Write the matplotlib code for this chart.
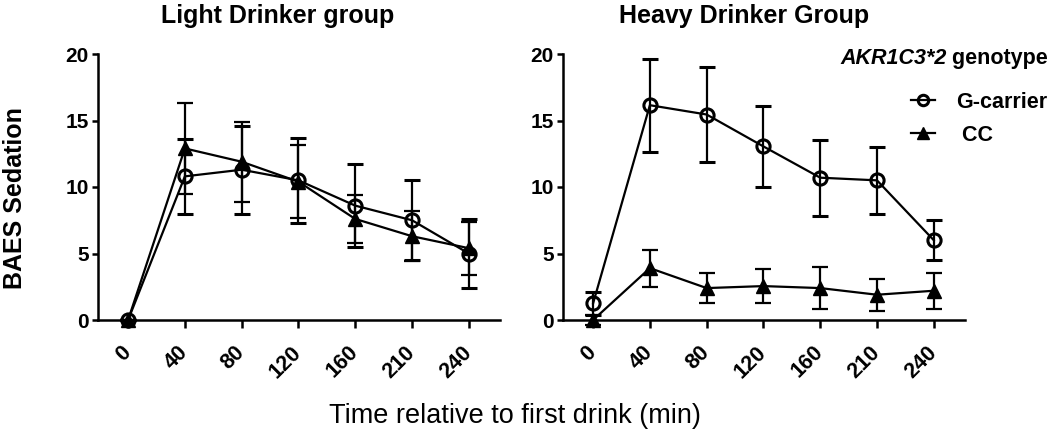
"""BAES sedation over time by AKR1C3*2 genotype, light vs heavy drinkers."""

import matplotlib

matplotlib.use("Agg")
import matplotlib.pyplot as plt  # noqa: E402
from matplotlib.lines import Line2D  # noqa: E402

TIMES = ["0", "40", "80", "120", "160", "210", "240"]

LIGHT_G_MEAN = [0, 10.8, 11.3, 10.5, 8.6, 7.5, 5.0]
LIGHT_G_SEM = [0, 2.8, 3.3, 3.2, 3.1, 3.0, 2.6]
LIGHT_CC_MEAN = [0, 12.9, 11.9, 10.4, 7.6, 6.3, 5.4]
LIGHT_CC_SEM = [0, 3.4, 3.0, 2.75, 1.8, 1.9, 2.0]

HEAVY_G_MEAN = [1.25, 16.15, 15.45, 13.05, 10.7, 10.5, 6.0]
HEAVY_G_SEM = [0.85, 3.5, 3.6, 3.05, 2.85, 2.5, 1.5]
HEAVY_CC_MEAN = [0, 3.9, 2.4, 2.55, 2.4, 1.9, 2.2]
HEAVY_CC_SEM = [0.4, 1.4, 1.1, 1.25, 1.6, 1.2, 1.35]

W, H = 1050, 432

plt.rcParams.update(
    {
        "font.family": ["Liberation Sans", "DejaVu Sans"],
        "font.weight": "bold",
        "axes.linewidth": 1.8,
    }
)


def panel(ax, g_mean, g_sem, cc_mean, cc_sem):
    x = list(range(len(TIMES)))
    style = dict(
        color="black",
        linewidth=1.6,
        elinewidth=1.6,
        capsize=5.5,
        capthick=1.6,
        markersize=9.5,
        clip_on=False,
        zorder=3,
    )
    ax.errorbar(x, cc_mean, yerr=cc_sem, marker="^", **style)
    ax.errorbar(x, g_mean, yerr=g_sem, marker="o", mfc="none", mec="black", mew=2.2, **style)
    ax.set_xlim(-0.53, 6.55)
    ax.set_ylim(0, 20)
    ax.set_yticks([0, 5, 10, 15, 20])
    ax.set_xticks(x)
    ax.set_xticklabels(TIMES, rotation=45, ha="right", va="center", rotation_mode="anchor")
    ax.spines[["top", "right"]].set_visible(False)
    ax.tick_params(axis="y", direction="out", length=4.5, width=1.8, pad=2, labelsize=15)
    ax.tick_params(axis="x", direction="out", length=6, width=1.8, pad=15, labelsize=15.5)


def main():
    fig = plt.figure(figsize=(W / 100, H / 100), dpi=100)
    bottom, top = 1 - 320 / H, 1 - 54 / H
    ax1 = fig.add_axes([98 / W, bottom, (500 - 98) / W, top - bottom])
    ax2 = fig.add_axes([563 / W, bottom, (965 - 563) / W, top - bottom])

    panel(ax1, LIGHT_G_MEAN, LIGHT_G_SEM, LIGHT_CC_MEAN, LIGHT_CC_SEM)
    panel(ax2, HEAVY_G_MEAN, HEAVY_G_SEM, HEAVY_CC_MEAN, HEAVY_CC_SEM)

    fig.text(278 / W, 1 - 23 / H, "Light Drinker group", ha="center", va="baseline", fontsize=18)
    fig.text(744 / W, 1 - 23 / H, "Heavy Drinker Group", ha="center", va="baseline", fontsize=18)
    fig.text(15 / W, 1 - 198 / H, "BAES Sedation", rotation=90, ha="center", va="center", fontsize=18)
    fig.text(
        515 / W,
        1 - 423 / H,
        "Time relative to first drink (min)",
        ha="center",
        va="baseline",
        fontsize=19.5,
        fontweight="normal",
    )

    # legend title has an italic gene name, so draw it as two pieces
    t1 = fig.text(840 / W, 1 - 69 / H, "AKR1C3*2", ha="left", va="bottom", fontsize=15.5, style="italic")
    ax2.annotate(" genotype", xy=(1, 0), xycoords=t1, ha="left", va="bottom", fontsize=15.5)

    handles = [
        Line2D([], [], color="black", lw=1.6, marker="o", mfc="none", mew=2.2, markersize=7.5),
        Line2D([], [], color="black", lw=1.6, marker="^", markersize=8.5),
    ]
    ax2.legend(
        handles,
        ["G-carrier", " CC"],
        loc="upper left",
        bbox_to_anchor=(911 / W, 1 - 92 / H),
        bbox_transform=fig.transFigure,
        frameon=False,
        prop={"weight": "bold", "size": 15.5},
        handlelength=1.1,
        handletextpad=1.0,
        labelspacing=0.55,
        borderpad=0,
        borderaxespad=0,
    )

    fig.savefig("out.png", dpi=100)
    plt.close(fig)


if __name__ == "__main__":
    main()
